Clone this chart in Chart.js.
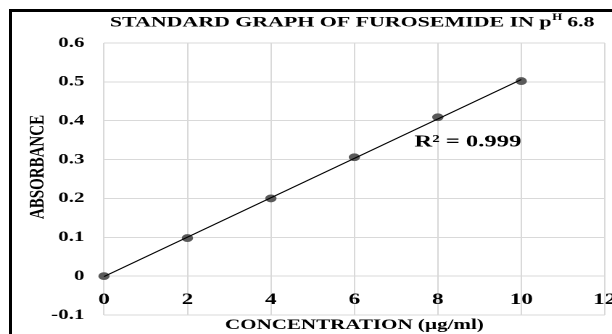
<!DOCTYPE html>
<html>
<head>
<meta charset="utf-8">
<script src="https://cdn.jsdelivr.net/npm/chart.js@4"></script>
<style>
  html, body { margin: 0; padding: 0; background: #fff; overflow: hidden; }
  #wrap { position: relative; width: 612px; height: 334px; overflow: hidden; background: #fff; }
  #frame { position: absolute; left: 9px; top: 9px; width: 700px; height: 400px;
           border-left: 3px solid #000; border-top: 3px solid #000; pointer-events: none; }
  #c { position: absolute; left: 0; top: 0; }
</style>
</head>
<body>
<div id="wrap">
  <!-- drawn on a narrower canvas and widened by CSS, giving the broad lettering of the figure -->
  <canvas id="c" width="422" height="334" style="width:612px;height:334px"></canvas>
  <div id="frame"></div>
</div>
<script>
// Calibration data
const concentration = [0, 2, 4, 6, 8, 10];                  // µg/ml
const absorbance    = [0, 0.098, 0.2, 0.306, 0.409, 0.502];

const xTickValues = [0, 2, 4, 6, 8, 10, 12];
const xTickLabels = ['0', '2', '4', '6', '8', '10', '12'];
const yTickValues = [-0.1, 0, 0.1, 0.2, 0.3, 0.4, 0.5, 0.6];
const yTickLabels = ['-0.1', '0', '0.1', '0.2', '0.3', '0.4', '0.5', '0.6'];

const titleMain = 'STANDARD GRAPH OF FUROSEMIDE IN p';
const titleSup  = 'H';
const titleTail = ' 6.8';
const xTitle = 'CONCENTRATION (\u00b5g/ml)';
const yTitle = 'ABSORBANCE';
const r2Label = 'R\u00b2 = 0.999';

const FONT = "'Liberation Serif', 'Times New Roman', serif";
const CANVAS_W = 422;
const PLOT_LEFT = 71.7;
const PLOT_RIGHT = 417.2;

// Least-squares trendline through the calibration points
const n = concentration.length;
const mx = concentration.reduce((a, b) => a + b, 0) / n;
const my = absorbance.reduce((a, b) => a + b, 0) / n;
let sxy = 0, sxx = 0;
for (let i = 0; i < n; i++) {
  sxy += (concentration[i] - mx) * (absorbance[i] - my);
  sxx += (concentration[i] - mx) ** 2;
}
const slope = sxy / sxx;
const intercept = my - slope * mx;
const xMin = Math.min(...concentration), xMax = Math.max(...concentration);
const trendPoints = [
  { x: xMin, y: intercept + slope * xMin },
  { x: xMax, y: intercept + slope * xMax }
];

const textLayer = {
  id: 'textLayer',
  afterDraw(chart) {
    const { ctx, chartArea, scales } = chart;
    ctx.save();
    ctx.fillStyle = '#000';
    ctx.textBaseline = 'middle';

    // Title with superscript H
    const titleFont = `bold 15.1px ${FONT}`;
    ctx.font = titleFont;
    const w1 = ctx.measureText(titleMain).width;
    const w3 = ctx.measureText(titleTail).width;
    ctx.font = `bold 9px ${FONT}`;
    const w2 = ctx.measureText(titleSup).width;
    const total = w1 + w2 + w3;
    let tx = (chartArea.left + chartArea.right) / 2 - total / 2 - 1.5;
    const ty = 22.5;
    ctx.textAlign = 'left';
    ctx.font = titleFont;
    ctx.fillText(titleMain, tx, ty);
    ctx.font = `bold 9px ${FONT}`;
    ctx.fillText(titleSup, tx + w1 + 0.5, ty - 5);
    ctx.font = titleFont;
    ctx.fillText(titleTail, tx + w1 + w2, ty);

    // Vertical axis title
    ctx.save();
    ctx.translate(26.2, 167);
    ctx.rotate(-Math.PI / 2);
    ctx.textAlign = 'center';
    ctx.font = `bold 15px ${FONT}`;
    ctx.fillText(yTitle, 0, 0);
    ctx.restore();

    // Coefficient of determination
    ctx.textAlign = 'center';
    ctx.font = `bold 17px ${FONT}`;
    ctx.fillText(r2Label, scales.x.getPixelForValue(8.72), scales.y.getPixelForValue(0.345));
    ctx.restore();
  }
};

const tickFont = { family: FONT, size: 14.5, weight: 'bold' };

new Chart(document.getElementById('c'), {
  type: 'scatter',
  data: {
    datasets: [
      {
        label: 'Linear (absorbance)',
        data: trendPoints,
        showLine: true,
        borderColor: '#000',
        borderWidth: 1,
        pointRadius: 0,
        fill: false,
        clip: false
      },
      {
        label: 'Absorbance',
        data: concentration.map((c, i) => ({ x: c, y: absorbance[i] })),
        pointRadius: 3.4,
        pointBackgroundColor: '#5a5a5a',
        pointBorderColor: '#5a5a5a',
        pointBorderWidth: 1,
        showLine: false,
        clip: false
      }
    ]
  },
  options: {
    responsive: false,
    animation: false,
    devicePixelRatio: 2,
    layout: { padding: { top: 43, right: CANVAS_W - PLOT_RIGHT, bottom: 0, left: 0 } },
    plugins: {
      legend: { display: false },
      tooltip: { enabled: false },
      title: { display: false }
    },
    scales: {
      x: {
        type: 'linear',
        position: { y: 0 },
        min: 0,
        max: 12,
        afterBuildTicks: s => { s.ticks = xTickValues.map(v => ({ value: v })); },
        afterFit: s => { s.paddingLeft = 0; s.paddingRight = 0; },
        grid: { color: '#d9d9d9', lineWidth: 1, drawTicks: false },
        border: { display: false },
        ticks: {
          padding: 14,
          color: '#000',
          font: { family: FONT, size: 16, weight: 'bold' },
          maxRotation: 0,
          autoSkip: false,
          callback: (v, i) => xTickLabels[i]
        }
      },
      x2: {
        type: 'linear',
        axis: 'x',
        position: 'bottom',
        min: 0,
        max: 12,
        grid: { display: false },
        border: { display: false },
        ticks: { display: false },
        title: {
          display: true,
          text: xTitle,
          color: '#000',
          font: { family: FONT, size: 14.5, weight: 'bold' },
          padding: { top: 0, bottom: 0 }
        },
        afterFit: s => { s.height = 19; s.paddingLeft = 0; s.paddingRight = 0; }
      },
      y: {
        type: 'linear',
        position: 'left',
        min: -0.1,
        max: 0.6,
        afterBuildTicks: s => { s.ticks = yTickValues.map(v => ({ value: v })); },
        afterFit: s => { s.width = PLOT_LEFT; s.paddingTop = 0; s.paddingBottom = 0; },
        grid: { color: '#d9d9d9', lineWidth: 1, drawTicks: false },
        border: { display: false },
        ticks: {
          padding: 13.5,
          color: '#000',
          font: tickFont,
          callback: (v, i) => yTickLabels[i]
        }
      }
    }
  },
  plugins: [textLayer]
});
</script>
</body>
</html>
